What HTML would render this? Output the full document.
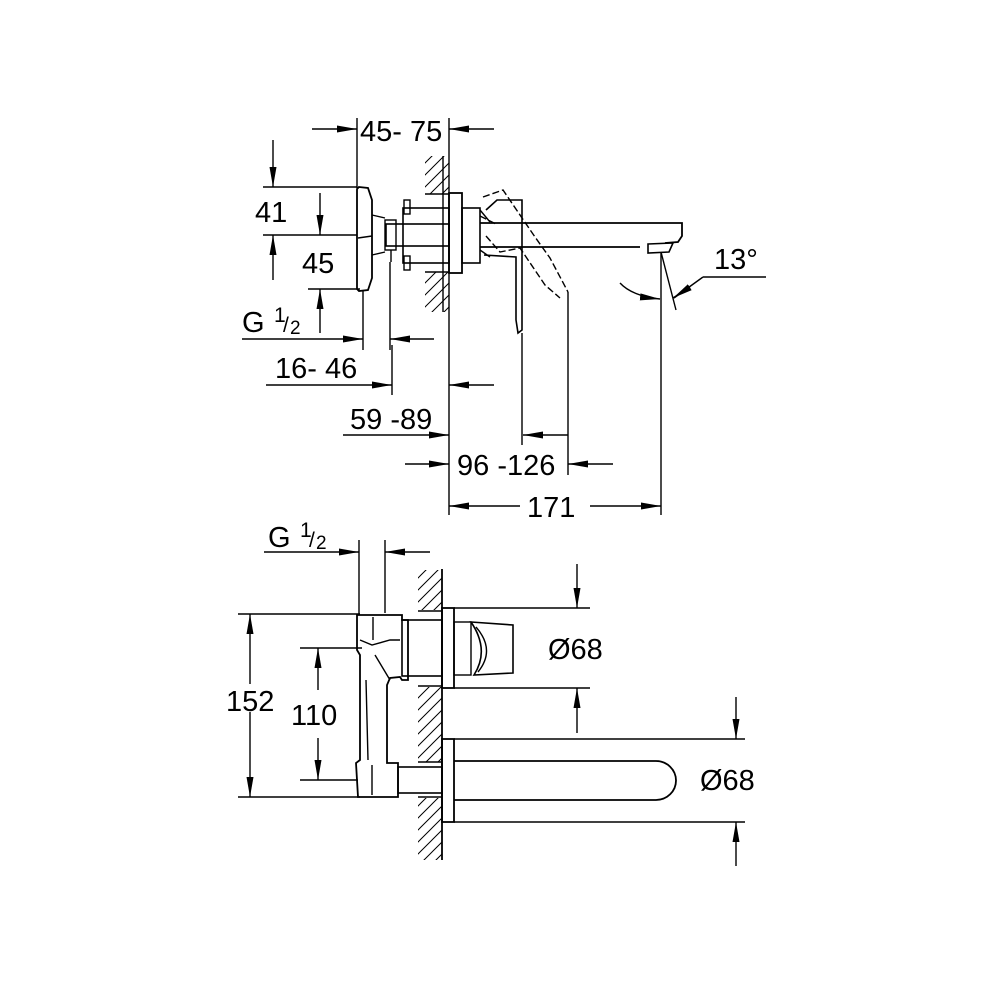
<!DOCTYPE html>
<html><head><meta charset="utf-8"><style>
html,body{margin:0;padding:0;background:#fff;}
svg{display:block;}
text{font-family:"Liberation Sans",Arial,sans-serif;fill:#000;}
</style></head><body>
<svg width="990" height="990" viewBox="0 0 990 990" xmlns="http://www.w3.org/2000/svg">
<defs>
<marker id="a" viewBox="0 0 20 9" refX="20" refY="4.5" markerWidth="20" markerHeight="9" markerUnits="userSpaceOnUse" orient="auto">
<path d="M0,1 L20,4.5 L0,8 Z" fill="#000"/></marker>
<pattern id="h" width="12" height="12" patternUnits="userSpaceOnUse">
<path d="M0,12 L12,0 M-3,3 L3,-3 M9,15 L15,9" stroke="#000" stroke-width="1"/></pattern>
</defs>
<g stroke="#000" fill="none" stroke-width="1.4">

<line x1="312" y1="129" x2="357" y2="129" marker-end="url(#a)"/>
<line x1="494" y1="129" x2="449" y2="129" marker-end="url(#a)"/>
<line x1="357" y1="118" x2="357" y2="188"/>
<line x1="449" y1="118" x2="449" y2="515"/>
<rect x="425" y="156" width="24" height="38" fill="url(#h)" stroke="none"/>
<rect x="425" y="272" width="24" height="40" fill="url(#h)" stroke="none"/>
<line x1="425" y1="194" x2="449" y2="194"/>
<line x1="425" y1="272" x2="449" y2="272"/>
<line x1="443" y1="156" x2="443" y2="312"/>
<rect x="449" y="193" width="13" height="80" stroke-width="1.8"/>
<rect x="403" y="208" width="46" height="55" stroke-width="1.6"/>
<rect x="404" y="200" width="6" height="14"/>
<rect x="404" y="256" width="6" height="14"/>
<rect x="386" y="224" width="63" height="22" stroke-width="1.6"/>
<rect x="385" y="220" width="11" height="30"/>
<path d="M359,187 L368,188 L372,200 L372,278 L368,290 L359,291 L357,289 L357,189 Z" stroke-width="1.8"/>
<path d="M372,215 L385,218 M372,255 L385,252 M358,238 L372,236"/>
<line x1="391" y1="250" x2="391" y2="262"/>
<rect x="462" y="208" width="18" height="55" stroke-width="1.6"/>
<path d="M480,223 L682,223 L682,236 L678,242 L665,243 M640,247 L480,247" stroke-width="1.8"/>
<path d="M648,244 L673,243 L669,252 L648,253 Z" stroke-width="1.6"/>
<path d="M486,210 L497,200 L522,200 L522,330 L518,333 L516,320 L516,257 L484,255" stroke-width="1.6"/>
<path d="M480,210 L490,222 M480,250 L490,257"/>
<path d="M483,197 L503,190 L535,237 L550,258 L568,292 M480,216 L496,224 M486,236 L500,252 L520,248 L545,285 L560,298" stroke-dasharray="7,3"/>
<line x1="522" y1="333" x2="522" y2="445"/>
<line x1="568" y1="292" x2="568" y2="475"/>
<line x1="661" y1="252" x2="661" y2="515"/>
<line x1="661" y1="252" x2="676" y2="310"/>
<path d="M620,283 Q632,296 660,299" marker-end="url(#a)"/>
<path d="M703,277 L766,277 M703,277 L674,298" />
<line x1="690" y1="287" x2="673" y2="298" marker-end="url(#a)"/>
<line x1="263" y1="187" x2="357" y2="187"/>
<line x1="263" y1="235" x2="357" y2="235"/>
<line x1="308" y1="289" x2="360" y2="289"/>
<line x1="273" y1="140" x2="273" y2="187" marker-end="url(#a)"/>
<line x1="273" y1="280" x2="273" y2="235" marker-end="url(#a)"/>
<line x1="320" y1="193" x2="320" y2="235" marker-end="url(#a)"/>
<line x1="320" y1="333" x2="320" y2="289" marker-end="url(#a)"/>
<line x1="363" y1="290" x2="363" y2="350"/>
<line x1="390" y1="262" x2="390" y2="350"/>
<line x1="242" y1="339" x2="363" y2="339" marker-end="url(#a)"/>
<line x1="434" y1="339" x2="390" y2="339" marker-end="url(#a)"/>
<line x1="392" y1="345" x2="392" y2="395"/>
<line x1="266" y1="385" x2="392" y2="385" marker-end="url(#a)"/>
<line x1="494" y1="385" x2="449" y2="385" marker-end="url(#a)"/>
<line x1="343" y1="435" x2="449" y2="435" marker-end="url(#a)"/>
<line x1="568" y1="435" x2="523" y2="435" marker-end="url(#a)"/>
<line x1="405" y1="464" x2="449" y2="464" marker-end="url(#a)"/>
<line x1="613" y1="464" x2="568" y2="464" marker-end="url(#a)"/>
<line x1="520" y1="506" x2="449" y2="506" marker-end="url(#a)"/>
<line x1="590" y1="506" x2="661" y2="506" marker-end="url(#a)"/>

<line x1="359" y1="540" x2="359" y2="615"/>
<line x1="385" y1="540" x2="385" y2="613"/>
<line x1="264" y1="552" x2="359" y2="552" marker-end="url(#a)"/>
<line x1="430" y1="552" x2="385" y2="552" marker-end="url(#a)"/>
<line x1="442" y1="569" x2="442" y2="860" stroke-width="1.8"/>
<rect x="418" y="570" width="24" height="40" fill="url(#h)" stroke="none"/>
<rect x="418" y="687" width="24" height="75" fill="url(#h)" stroke="none"/>
<rect x="418" y="798" width="24" height="62" fill="url(#h)" stroke="none"/>
<line x1="418" y1="611" x2="442" y2="611"/>
<line x1="418" y1="686" x2="442" y2="686"/>
<line x1="418" y1="762" x2="442" y2="762"/>
<line x1="418" y1="797" x2="442" y2="797"/>
<rect x="442" y="608" width="12" height="80" stroke-width="1.8"/>
<rect x="402" y="620" width="40" height="56" stroke-width="1.6"/>
<rect x="454" y="622" width="17" height="53"/>
<path d="M471,622 L513,625 L513,673 L474,675 Q490,650 471,622 Z" stroke-width="1.6"/>
<path d="M476,627 Q496,650 478,672"/>
<path d="M357,615 L402,615 L402,620 L408,620 L408,680 L402,680 L400,677 L390,678 L387,685 L387,763 L398,763 L398,797 L358,797 L356,763 L360,760 L360,655 L357,650 Z" stroke-width="1.8"/>
<path d="M373,617 L373,640 M360,640 L372,645 L390,640 L400,640 M366,680 L368,760 M375,655 L390,680 M372,765 L372,795"/>
<rect x="398" y="767" width="44" height="26" stroke-width="1.6"/>
<rect x="442" y="739" width="12" height="83" stroke-width="1.8"/>
<path d="M454,761 L656,761 A20,19.5 0 0 1 656,800 L454,800" stroke-width="1.8"/>
<line x1="454" y1="608" x2="590" y2="608"/>
<line x1="454" y1="688" x2="590" y2="688"/>
<line x1="577" y1="564" x2="577" y2="608" marker-end="url(#a)"/>
<line x1="577" y1="733" x2="577" y2="688" marker-end="url(#a)"/>
<line x1="454" y1="739" x2="745" y2="739"/>
<line x1="454" y1="822" x2="745" y2="822"/>
<line x1="736" y1="697" x2="736" y2="739" marker-end="url(#a)"/>
<line x1="736" y1="866" x2="736" y2="822" marker-end="url(#a)"/>
<line x1="238" y1="614" x2="360" y2="614"/>
<line x1="238" y1="797" x2="360" y2="797"/>
<line x1="300" y1="648" x2="362" y2="648"/>
<line x1="300" y1="780" x2="358" y2="780"/>
<line x1="250" y1="684" x2="250" y2="614" marker-end="url(#a)"/>
<line x1="250" y1="712" x2="250" y2="797" marker-end="url(#a)"/>
<line x1="318" y1="690" x2="318" y2="648" marker-end="url(#a)"/>
<line x1="318" y1="738" x2="318" y2="780" marker-end="url(#a)"/>
</g>

<g font-size="29">
<text x="360" y="141">45- 75</text>
<text x="255" y="222">41</text>
<text x="302" y="273">45</text>
<text x="242" y="332">G</text>
<text x="274" y="322" font-size="21">1</text>
<text x="283" y="332" font-size="21">/</text>
<text x="290" y="334" font-size="19">2</text>
<text x="275" y="378">16- 46</text>
<text x="350" y="429">59 -89</text>
<text x="457" y="475">96 -126</text>
<text x="527" y="517">171</text>
<text x="714" y="269">13°</text>
<text x="268" y="547">G</text>
<text x="300" y="537" font-size="21">1</text>
<text x="309" y="547" font-size="21">/</text>
<text x="316" y="549" font-size="19">2</text>
<text x="226" y="711">152</text>
<text x="291" y="725">110</text>
<text x="548" y="659">Ø68</text>
<text x="700" y="790">Ø68</text>
</g>
</svg>
</body></html>
